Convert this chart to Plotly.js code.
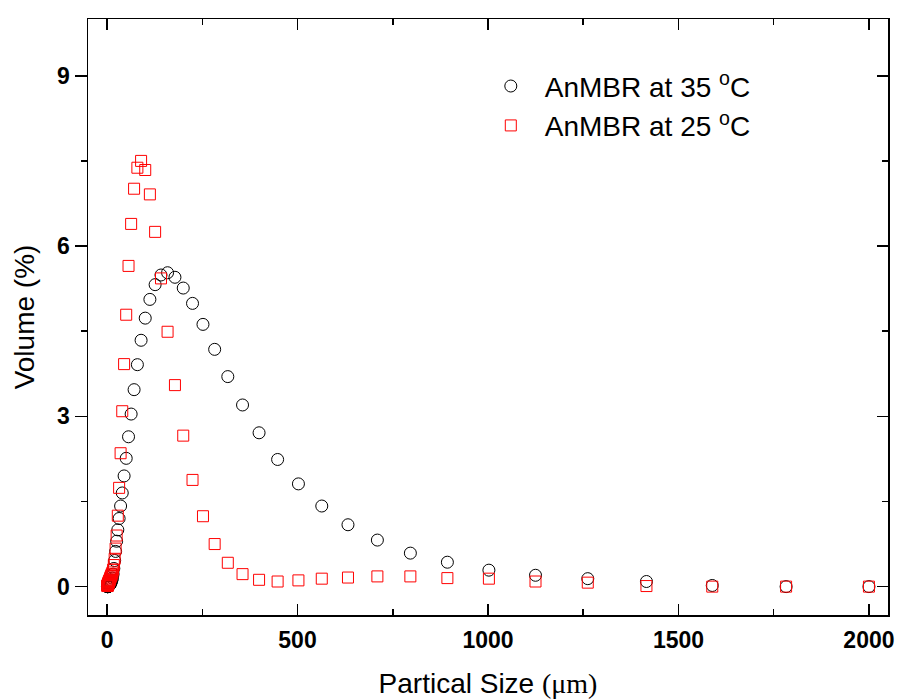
<!DOCTYPE html>
<html>
<head>
<meta charset="utf-8">
<script src="https://cdn.plot.ly/plotly-3.0.1.min.js"></script>
<style>html,body{margin:0;padding:0;background:#fff;}#chart{width:897px;height:699px;}</style>
</head>
<body>
<div id="chart"></div>
<script>
// Particle size bins (µm)
var sizeBins = [1.002,1.125,1.262,1.416,1.589,1.783,2.000,2.244,2.518,2.825,3.170,3.557,3.991,4.477,5.024,5.637,6.325,7.096,7.962,8.934,10.024,11.247,12.619,14.159,15.887,17.825,20.000,22.440,25.179,28.251,31.698,35.566,39.905,44.774,50.238,56.368,63.246,70.963,79.621,89.337,100.237,112.468,126.191,141.589,158.866,178.250,200.000,224.404,251.785,282.508,316.979,355.656,399.052,447.744,502.377,563.677,632.456,709.627,796.214,893.367,1002.374,1124.683,1261.915,1415.892,1588.656,1782.502,2000];

// Volume (%) at 35 °C
var vol35 = [0,0,0,0,0,0,
  0,0,0,0,0,0.005,
  0.01,0.01,0.015,0.02,0.025,0.03,
  0.04,0.05,0.065,0.085,0.11,0.15,
  0.22,0.32,0.46,0.62,0.80,1.0,
  1.2,1.42,1.65,1.95,2.26,2.64,
  3.04,3.47,3.91,4.34,4.73,5.06,
  5.32,5.49,5.53,5.45,5.26,4.99,
  4.62,4.18,3.70,3.20,2.71,2.24,
  1.81,1.42,1.09,0.82,0.59,0.43,
  0.29,0.20,0.14,0.09,0.02,0.0,
  0.0];

// Volume (%) at 25 °C
var vol25 = [0.01,0.012,0.015,0.018,0.02,0.025,
  0.03,0.035,0.04,0.045,0.05,0.06,
  0.07,0.08,0.09,0.10,0.11,0.12,
  0.14,0.16,0.18,0.20,0.22,0.25,
  0.30,0.38,0.49,0.67,0.90,1.25,
  1.74,2.35,3.09,3.92,4.79,5.65,
  6.39,7.01,7.38,7.50,7.34,6.91,
  6.25,5.43,4.49,3.55,2.66,1.88,
  1.24,0.75,0.42,0.22,0.12,0.09,
  0.11,0.14,0.16,0.18,0.18,0.15,
  0.14,0.09,0.07,0.01,0.0,0.0,
  0.0];

var seriesNames = ['AnMBR at 35 <sup>o</sup>C', 'AnMBR at 25 <sup>o</sup>C'];
var xTickVals = [0, 500, 1000, 1500, 2000];
var yTickVals = [0, 3, 6, 9];

var xRange = [-50, 2050];
var yRange = [-0.5, 10];

var tickFont = {family: 'Liberation Sans, Arial, sans-serif', size: 23, color: '#000', weight: 'bold'};

var traces = [
  {x: sizeBins, y: vol35, name: seriesNames[0], type: 'scatter', mode: 'markers',
   marker: {symbol: 'circle-open', size: 12, color: '#000', line: {width: 1, color: '#000'}}},
  {x: sizeBins, y: vol25, name: seriesNames[1], type: 'scatter', mode: 'markers',
   marker: {symbol: 'square-open', size: 11, color: '#ff0000', line: {width: 1, color: '#ff0000'}}},
  {x: [], y: [], xaxis: 'x2', yaxis: 'y2', showlegend: false, hoverinfo: 'skip', type: 'scatter', mode: 'markers'}
];

var layout = {
  width: 897, height: 699,
  margin: {l: 88, r: 9, t: 19, b: 84},
  paper_bgcolor: '#fff', plot_bgcolor: '#fff',
  showlegend: true,
  legend: {x: 0.486, y: 0.929, xanchor: 'left', yanchor: 'top', bgcolor: 'rgba(0,0,0,0)',
           font: {family: 'Liberation Sans, Arial, sans-serif', size: 28, color: '#000'},
           itemwidth: 58, tracegroupgap: 0},
  xaxis: {
    range: xRange, showgrid: false, zeroline: false,
    showline: true, linecolor: '#000', linewidth: 1.5, mirror: true,
    ticks: 'inside', ticklen: 11, tickwidth: 1.5, tickcolor: '#000',
    tickvals: xTickVals, ticktext: xTickVals.map(String), tickfont: tickFont, ticklabelstandoff: 4,
    minor: {dtick: 250, tick0: 0, ticks: 'inside', ticklen: 6, tickwidth: 1.5, tickcolor: '#000', showgrid: false},
    title: {text: 'Partical Size <span style="font-family:Liberation Serif, Times New Roman, serif">(μm)</span>',
            font: {family: 'Liberation Sans, Arial, sans-serif', size: 28, color: '#000'}, standoff: 26}
  },
  yaxis: {
    range: yRange, showgrid: false, zeroline: false,
    showline: true, linecolor: '#000', linewidth: 1.5, mirror: true,
    ticks: 'outside', ticklen: 12, tickwidth: 1.5, tickcolor: '#000',
    tickvals: yTickVals, ticktext: yTickVals.map(String), tickfont: tickFont,
    minor: {dtick: 1.5, tick0: 0, ticks: 'outside', ticklen: 6, tickwidth: 1.5, tickcolor: '#000', showgrid: false},
    title: {text: 'Volume (%)', font: {family: 'Liberation Sans, Arial, sans-serif', size: 28, color: '#000'}, standoff: 14}
  },
  xaxis2: {
    overlaying: 'x', side: 'top', anchor: 'y2', range: xRange, showgrid: false, zeroline: false,
    showline: false, showticklabels: false,
    ticks: 'inside', ticklen: 11, tickwidth: 1.5, tickcolor: '#000', tickvals: xTickVals,
    minor: {dtick: 250, tick0: 0, ticks: 'inside', ticklen: 6, tickwidth: 1.5, tickcolor: '#000', showgrid: false}
  },
  yaxis2: {
    overlaying: 'y', side: 'right', anchor: 'x2', range: yRange, showgrid: false, zeroline: false,
    showline: false, showticklabels: false,
    ticks: 'inside', ticklen: 11, tickwidth: 1.5, tickcolor: '#000', tickvals: yTickVals,
    minor: {dtick: 1.5, tick0: 0, ticks: 'inside', ticklen: 6, tickwidth: 1.5, tickcolor: '#000', showgrid: false}
  }
};

Plotly.newPlot('chart', traces, layout, {displayModeBar: false, staticPlot: true});
</script>
</body>
</html>
